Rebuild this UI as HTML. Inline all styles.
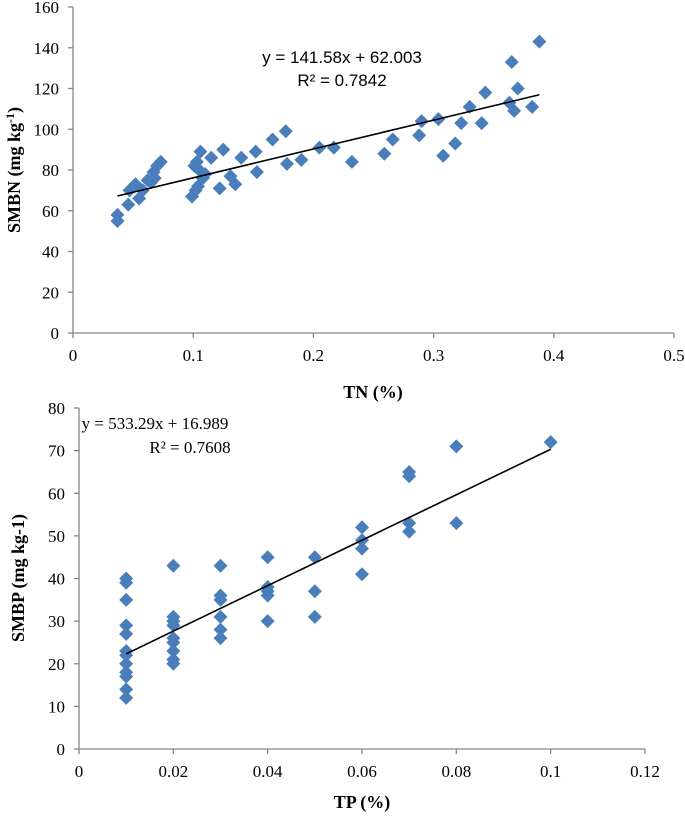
<!DOCTYPE html>
<html><head><meta charset="utf-8"><style>
html,body{margin:0;padding:0;background:#fff;}
svg text{font-family:"Liberation Serif",serif;}
</style></head><body>
<svg id="c" width="685" height="813" xmlns="http://www.w3.org/2000/svg"></svg>
<script>
const tnX=[0.037,0.037,0.046,0.047,0.052,0.055,0.058,0.062,0.065,0.067,0.068,0.070,0.073,0.099,0.101,0.102,0.103,0.104,0.105,0.106,0.108,0.110,0.115,0.122,0.125,0.131,0.135,0.140,0.152,0.153,0.166,0.177,0.178,0.190,0.205,0.217,0.232,0.259,0.266,0.288,0.290,0.304,0.308,0.318,0.323,0.330,0.340,0.343,0.363,0.365,0.367,0.370,0.382,0.388];
const smbn=[58,55,63,70,73,66,70,75,74,79,76,82,84,67,82,70,84,72,80,89,76,78,86,71,90,77,73,86,89,79,95,99,83,85,91,91,84,88,95,97,104,105,87,93,103,111,103,118,113,133,109,120,111,143];
const tnTicksX=[0,0.1,0.2,0.3,0.4,0.5];
const tnTicksY=[0,20,40,60,80,100,120,140,160];
const fit1=[141.58,62.003];
const tpX=[0.01,0.01,0.01,0.01,0.01,0.01,0.01,0.01,0.01,0.01,0.01,0.01,0.02,0.02,0.02,0.02,0.02,0.02,0.02,0.02,0.02,0.03,0.03,0.03,0.03,0.03,0.03,0.04,0.04,0.04,0.04,0.04,0.05,0.05,0.05,0.06,0.06,0.06,0.06,0.07,0.07,0.07,0.07,0.08,0.08,0.1];
const smbp=[12,14,17,18,20,22,23,27,29,35,39,40,20,21,23,25,26,29,30,31,43,26,28,31,35,36,43,30,36,37,38,45,31,37,45,41,47,49,52,51,53,64,65,53,71,72];
const tpTicksX=[0,0.02,0.04,0.06,0.08,0.1,0.12];
const tpTicksY=[0,10,20,30,40,50,60,70,80];
const fit2=[533.29,16.989];

const svg=document.getElementById('c');
const NS='http://www.w3.org/2000/svg';
function mk(tag,attrs,txt){const e=document.createElementNS(NS,tag);for(const k in attrs)e.setAttribute(k,attrs[k]);if(txt!==undefined)e.textContent=txt;svg.appendChild(e);return e;}

function chart(p){
  const sx=v=>p.x0+(v-p.xmin)/(p.xmax-p.xmin)*(p.x1-p.x0);
  const sy=v=>p.y0-(v-p.ymin)/(p.ymax-p.ymin)*(p.y0-p.y1);
  let e=mk('line',{x1:p.x0,y1:p.y0,x2:p.x1,y2:p.y0,stroke:'#868686','stroke-width':1.3});
  
  e=mk('line',{x1:p.x0,y1:p.y0,x2:p.x0,y2:p.y1,stroke:'#868686','stroke-width':1.3});
  
  p.ty.forEach(v=>{
    mk('line',{x1:p.x0-5,y1:sy(v),x2:p.x0,y2:sy(v),stroke:'#868686','stroke-width':1.3});
    e=mk('text',{x:p.x0-14,y:sy(v)+6,'text-anchor':'end','font-size':17,fill:'#000'},String(v));
    
  });
  p.tx.forEach(v=>{
    mk('line',{x1:sx(v),y1:p.y0,x2:sx(v),y2:p.y0+5,stroke:'#868686','stroke-width':1.3});
    e=mk('text',{x:sx(v),y:p.y0+28,'text-anchor':'middle','font-size':17,fill:'#000'},String(v));
    
  });
  p.xs.forEach((v,i)=>{
    const cx=sx(v),cy=sy(p.ys[i]),r=7;
    e=mk('polygon',{points:`${cx},${cy-r} ${cx+r},${cy} ${cx},${cy+r} ${cx-r},${cy}`,fill:'#4a7ebb'});
    
  });
  const a=Math.min(...p.xs),b=Math.max(...p.xs);
  e=mk('line',{x1:sx(a),y1:sy(p.fit[0]*a+p.fit[1]),x2:sx(b),y2:sy(p.fit[0]*b+p.fit[1]),stroke:'#000','stroke-width':1.6});
  
}
chart({id:'tn',x0:73,x1:674,y0:333,y1:7,xmin:0,xmax:0.5,ymin:0,ymax:160,tx:tnTicksX,ty:tnTicksY,xs:tnX,ys:smbn,fit:fit1});
chart({id:'tp',x0:79,x1:645,y0:749,y1:408,xmin:0,xmax:0.12,ymin:0,ymax:80,tx:tpTicksX,ty:tpTicksY,xs:tpX,ys:smbp,fit:fit2});
</script>
<svg width="685" height="813" style="position:absolute;left:0;top:0" xmlns="http://www.w3.org/2000/svg">
<text x="342" y="63" text-anchor="middle" font-size="17" style="font-family:'Liberation Sans',sans-serif">y = 141.58x + 62.003</text>
<text x="342" y="86" text-anchor="middle" font-size="17" style="font-family:'Liberation Sans',sans-serif">R² = 0.7842</text>
<text x="373" y="398" text-anchor="middle" font-size="18" font-weight="bold" style="font-family:'Liberation Serif',serif">TN (%)</text>
<text transform="translate(20,170) rotate(-90)" text-anchor="middle" font-size="18" font-weight="bold" style="font-family:'Liberation Serif',serif">SMBN (mg kg<tspan font-size="12" dy="-6">-1</tspan><tspan dy="6">)</tspan></text>
<text x="155" y="429" text-anchor="middle" font-size="17" style="font-family:'Liberation Serif',serif">y = 533.29x + 16.989</text>
<text x="190" y="453" text-anchor="middle" font-size="17" style="font-family:'Liberation Serif',serif">R² = 0.7608</text>
<text x="362" y="808" text-anchor="middle" font-size="18" font-weight="bold" style="font-family:'Liberation Serif',serif">TP (%)</text>
<text transform="translate(24,578) rotate(-90)" text-anchor="middle" font-size="18" font-weight="bold" style="font-family:'Liberation Serif',serif">SMBP (mg kg-1)</text>
</svg>
</body></html>
